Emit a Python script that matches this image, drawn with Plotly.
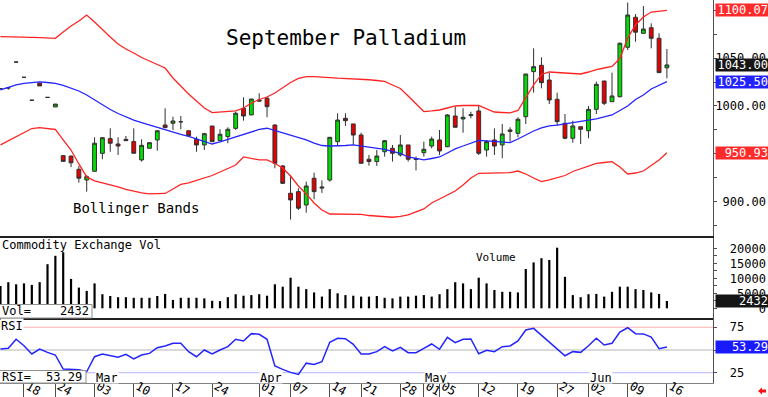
import plotly.graph_objects as go

# ---------------- data ----------------
dates = [
    "2003-02-12", "2003-02-13", "2003-02-14", "2003-02-18", "2003-02-19", "2003-02-20", "2003-02-21",
    "2003-02-24", "2003-02-25", "2003-02-26", "2003-02-27", "2003-02-28",
    "2003-03-03", "2003-03-04", "2003-03-05", "2003-03-06", "2003-03-07", "2003-03-10", "2003-03-11",
    "2003-03-12", "2003-03-13", "2003-03-14", "2003-03-17", "2003-03-18", "2003-03-19", "2003-03-20",
    "2003-03-21", "2003-03-24", "2003-03-25", "2003-03-26", "2003-03-27", "2003-03-28", "2003-03-31",
    "2003-04-01", "2003-04-02", "2003-04-03", "2003-04-04", "2003-04-07", "2003-04-08", "2003-04-09",
    "2003-04-10", "2003-04-11", "2003-04-14", "2003-04-15", "2003-04-16", "2003-04-17", "2003-04-21",
    "2003-04-22", "2003-04-23", "2003-04-24", "2003-04-25", "2003-04-28", "2003-04-29", "2003-04-30",
    "2003-05-01", "2003-05-02", "2003-05-05", "2003-05-06", "2003-05-07", "2003-05-08", "2003-05-09",
    "2003-05-12", "2003-05-13", "2003-05-14", "2003-05-15", "2003-05-16", "2003-05-19", "2003-05-20",
    "2003-05-21", "2003-05-22", "2003-05-23", "2003-05-27", "2003-05-28", "2003-05-29", "2003-05-30",
    "2003-06-02", "2003-06-03", "2003-06-04", "2003-06-05", "2003-06-06", "2003-06-09", "2003-06-10",
    "2003-06-11", "2003-06-12", "2003-06-13", "2003-06-16",
]

opens = [
    1018, 1019, 1046, 1030, 1006, 1024, 1009, 999, 948, 947.5,
    933.7, 922.5, 931.6, 950.4, 965.8, 960.2, 965.1, 962.7, 943.5, 955.7,
    964.4, 980.1, 981.9, 983.5, 974.1, 965.1, 959.2, 979, 963.7, 967.9,
    976.6, 997.6, 990.6, 1006.3, 1008.1, 980.1, 937.2, 908.6, 910.3, 896.3,
    924.3, 914, 922.5, 962.7, 987.1, 981.2, 969.6, 944.2, 941.8, 952.1,
    955.7, 948.7, 959.2, 944, 951.1, 958.1, 964.4, 957.4, 989.5, 986.4,
    991, 994.8, 953.9, 964.4, 959.2, 974.9, 971.4, 988.8, 1036, 1042.6,
    1027.2, 1007, 981.9, 966.2, 978.3, 974.1, 996.5, 1026.2, 1004.5, 1009.7,
    1061.5, 1092.9, 1076.1, 1082, 1070.9, 1040,
]
highs = [
    1018, 1019.5, 1046, 1030, 1006, 1024, 1009, 1002, 948, 948,
    937.2, 927.7, 967.2, 967.2, 976.6, 967.2, 968.6, 976.6, 965.1, 961.6,
    974.1, 997.5, 988.8, 989.5, 974.1, 967.9, 972, 979, 975.6, 977.7,
    994, 1009.1, 1007.3, 1013.3, 1009.8, 980.8, 938.2, 927.7, 913.8, 920.7,
    930.2, 922, 967.2, 992.4, 992.4, 981.2, 972, 948.7, 954, 964.4,
    959.2, 969.6, 959.2, 947, 962.7, 967.9, 974.9, 991.6, 999.3, 997.6,
    994, 1001, 964.4, 976.6, 981.2, 977.7, 988.2, 1033.5, 1060.4, 1051,
    1034.9, 1013.9, 991.6, 984.6, 978.3, 1000, 1025.5, 1026.2, 1034.9, 1066.4,
    1108.3, 1096.3, 1104.7, 1086.6, 1076.1, 1059.7,
]
lows = [
    1018, 1017, 1046, 1030, 1006, 1021, 1009, 999, 942, 936,
    919.7, 910.3, 931, 944.2, 952.1, 948.7, 963.7, 950.5, 941.8, 955.7,
    953.2, 977.3, 974.9, 975.6, 967.9, 952.1, 953.9, 962.6, 963.7, 961,
    974.9, 984.6, 990.6, 1004.5, 988.2, 934.8, 918.3, 881, 891.1, 888.3,
    902.3, 909, 920.7, 958, 979.1, 959.2, 940, 937.5, 937.2, 947,
    941.8, 947, 941.8, 932.5, 947, 955.7, 948.7, 956.8, 977.7, 972,
    987.1, 948.7, 947, 948.7, 945.3, 962.7, 967.2, 981.2, 1013.9, 1018.5,
    1002.1, 979.1, 965.1, 961.6, 960.2, 966.2, 991.6, 1001, 1004.5, 1009.1,
    1058.6, 1067.3, 1076.1, 1060.4, 1034.9, 1029,
]
closes = [
    1018, 1019, 1046, 1030, 1006, 1021, 1009, 1002, 942, 940.5,
    924.4, 926, 961, 966.8, 961, 958.1, 963.7, 950.5, 958.8, 961.6,
    974.1, 977.3, 984.3, 983.5, 968.9, 959.2, 971, 962.6, 970.4, 975.6,
    992.4, 989.5, 1007.3, 1005.2, 999.3, 940, 919, 901.6, 893, 916.2,
    910.3, 915, 967.2, 985.3, 984.6, 969.6, 940, 941.8, 947.6, 963.7,
    950.5, 959.2, 944.2, 945, 954.7, 965.4, 952.9, 990.6, 977.7, 988.2,
    990, 950.5, 962.7, 958.1, 970.7, 973.5, 986.1, 1033.5, 1041.2, 1024.4,
    1006.3, 983.6, 966.2, 979.1, 975.6, 996.5, 1022.7, 1002.8, 1010.5, 1065.7,
    1095.3, 1077.3, 1080.6, 1070.9, 1034.9, 1043,
]

bb_upper = [
    1072.6, 1072.6, 1072.5, 1072.2, 1071.9, 1071.6, 1071.2, 1070.9, 1077.5, 1083.8,
    1089, 1095.3, 1088, 1079.6, 1072.2, 1064.9, 1059.7, 1055.5, 1050.8, 1047.1,
    1043.5, 1039.8, 1029.3, 1020.4, 1012.6, 1005.2, 997.9, 993, 993.4, 994,
    994.8, 997.9, 1003.1, 1006.8, 1009.4, 1013.6, 1018.8, 1024.6, 1028.8, 1030.7,
    1030.7, 1030.6, 1029.8, 1029.1, 1028.8, 1028.8, 1028.3, 1027.5, 1026.7, 1025.7,
    1022, 1018.3, 1010.5, 1002.1, 994.2, 994.8, 995.8, 997.9, 1000, 1000.5,
    1000.8, 1000.5, 996.9, 993.7, 993.2, 992.7, 995.3, 1008.4, 1022, 1033,
    1035.6, 1035.1, 1034.8, 1034, 1033.5, 1035.6, 1038.2, 1039.8, 1041.4, 1049.7,
    1071.2, 1084.8, 1093.2, 1098.4, 1099.3, 1100.07,
]
bb_mid = [
    1016.8, 1019.4, 1022, 1023.6, 1024.6, 1025.3, 1024.6, 1023.6, 1021.5, 1018.8,
    1015.7, 1011.5, 1006.3, 1001, 996.3, 992.1, 988.5, 985.3, 982.7, 980.1,
    977.5, 974.9, 972.3, 970.2, 968.1, 965.4, 962.8, 960.2, 962.3, 964.9,
    967, 969.6, 972.8, 975.4, 976.7, 974.3, 971.7, 969.1, 967, 964.4,
    961.2, 958.6, 958.1, 958.1, 958.6, 959.2, 958.1, 957.1, 956, 954.5,
    952.4, 950.3, 946.6, 945, 943.5, 945, 946.6, 950.8, 955, 958.1,
    961.3, 963.9, 963.4, 962.8, 962.3, 961.6, 965.4, 969.6, 973.8, 977,
    979.1, 979.9, 981.2, 982.2, 983.2, 984.8, 986.4, 988.5, 990.6, 995.3,
    1000, 1006.8, 1011.5, 1017.8, 1022, 1025.5,
]
bb_lower = [
    959.2, 963.4, 967.5, 971.7, 976.4, 977.3, 976.7, 975.4, 964.4, 953.9,
    939.3, 925.7, 921.5, 919.4, 917.8, 915.2, 912.6, 910.5, 908.9, 907.9,
    907.9, 908.4, 913.1, 917.8, 919.4, 922, 924.6, 927.2, 930.9, 934.6,
    938.2, 946.6, 945, 943.5, 943.5, 939.8, 935.1, 926.7, 916.2, 907.9,
    898.4, 891.1, 886.9, 886.9, 886.9, 886.9, 886.4, 885.3, 884.8, 883.8,
    883.5, 884.3, 885.9, 889, 892.2, 898.4, 902.6, 906.3, 911, 917.3,
    924.6, 929.5, 929.8, 929.8, 930.2, 930.2, 931.9, 928.8, 924.6, 920.9,
    922.5, 924.6, 927.2, 931.4, 934, 936.7, 939.8, 940.8, 941.7, 936.1,
    928.8, 929.8, 931.9, 937.7, 943.5, 950.93,
]

volume = [
    7400, 8700, 8000, 8300, 7800, 8700, 14700, 17500, 18700, 9800,
    6900, 5800, 8300, 4700, 4100, 3700, 3700, 3500, 3500, 3500,
    4100, 4800, 2800, 3500, 3500, 3500, 3300, 2500, 2400, 3700,
    4700, 4200, 4400, 4700, 4200, 8000, 7200, 10200, 7200, 6400,
    5300, 3900, 6400, 5000, 4400, 4200, 3900, 3900, 4100, 3500,
    3300, 3900, 3900, 4200, 4400, 3900, 4700, 6400, 8700, 8300,
    6400, 10200, 8300, 6100, 5500, 5500, 5300, 13100, 15300, 16700,
    16100, 20200, 10500, 4400, 3700, 4700, 4800, 3900, 5500, 7200,
    7200, 6400, 6100, 5300, 4800, 2432,
]

rsi = [
    51.1, 51.8, 61.8, 54.7, 45.6, 51.1, 47.4, 44.5, 29.1, 29.1,
    28.3, 26.1, 42.6, 45.6, 43.7, 42, 45.2, 40.1, 44.5, 46.3,
    52.5, 54.4, 57.4, 57.4, 48.2, 42.6, 50, 45.6, 50, 53.7,
    61.8, 59.9, 68, 67.3, 61.8, 32.4, 28.7, 25.4, 23.2, 35.5,
    34.1, 37.1, 58.5, 62.9, 62.5, 56.3, 45.6, 45.6, 48.2, 53.7,
    48.9, 53, 47.1, 47.1, 51.8, 56.6, 50.8, 64, 58.1, 61.8,
    62.1, 45.9, 49.6, 48.2, 53.7, 54.4, 59.9, 72, 73.8, 66.5,
    59.2, 51.8, 43.7, 48.2, 47.4, 54.7, 62.9, 55.5, 57.4, 69.6,
    74.5, 68, 67.7, 64.2, 51.4, 53.29,
]

tick_dates = ["2003-02-18", "2003-02-24", "2003-03-03", "2003-03-10", "2003-03-17", "2003-03-24",
              "2003-04-01", "2003-04-07", "2003-04-14", "2003-04-21", "2003-04-28", "2003-05-01",
              "2003-05-05", "2003-05-12", "2003-05-19", "2003-05-27", "2003-06-02", "2003-06-09",
              "2003-06-16"]
tick_text = ["18", "24", "03", "10", "17", "24", "01", "07", "14", "21", "28", "01",
             "05", "12", "19", "27", "02", "09", "16"]
month_dates = ["2003-03-03", "2003-04-01", "2003-05-01", "2003-06-02"]
month_text = ["Mar", "Apr", "May", "Jun"]

price_ticks = [875, 900, 925, 950, 975, 1000, 1025, 1050, 1075, 1100]
vol_ticks = [0, 2500, 5000, 7500, 10000, 12500, 15000, 17500, 20000]
rsi_ticks = [25, 50, 75]

# ---------------- figure ----------------
W, H = 768, 397
PLOT_W = 713
FONT = "DejaVu Sans Mono"
NB = "\u00a0"


def px(xp):
    return xp / PLOT_W


def py(yp):
    return (H - yp) / H


n = len(dates)
xs = list(range(n))
pos = {d: i for i, d in enumerate(dates)}
xrange_ = [-0.06, 90.88]

fig = go.Figure()

fig.add_trace(go.Candlestick(
    x=xs, open=opens, high=highs, low=lows, close=closes,
    xaxis="x", yaxis="y", whiskerwidth=0,
    increasing=dict(fillcolor="#00dd00", line=dict(color="#303030", width=1)),
    decreasing=dict(fillcolor="#e80000", line=dict(color="#303030", width=1)),
    hoverinfo="skip",
))
for vals, col in ((bb_upper, "#ff2424"), (bb_mid, "#2424ff"), (bb_lower, "#ff2424")):
    fig.add_trace(go.Scatter(x=xs, y=vals, mode="lines", xaxis="x", yaxis="y",
                             line=dict(color=col, width=1.3), hoverinfo="skip"))

fig.add_trace(go.Bar(x=xs, y=volume, xaxis="x2", yaxis="y2", width=0.28,
                     marker=dict(color="black", line=dict(width=0)), hoverinfo="skip"))

fig.add_trace(go.Scatter(x=xs, y=rsi, mode="lines", xaxis="x3", yaxis="y3",
                         line=dict(color="#2424ff", width=1.5), hoverinfo="skip"))


def pad(s, w=7):
    return NB * (w - len(s)) + s


tickfont = dict(family=FONT, size=12, color="black")
YSTAND = -4

fig.update_layout(
    width=W, height=H,
    margin=dict(l=0, r=W - PLOT_W, t=0, b=0, autoexpand=False),
    paper_bgcolor="white", plot_bgcolor="white",
    showlegend=False, hovermode=False,
    xaxis=dict(domain=[0, 1], anchor="y", range=xrange_, showticklabels=False, showgrid=False,
               zeroline=False, rangeslider=dict(visible=False), ticks="", automargin=False),
    yaxis=dict(domain=[py(237), 1], anchor="x", side="right", range=[862.8, 1111],
               showgrid=False, zeroline=False, showline=True, linecolor="#505050", linewidth=1,
               tickvals=price_ticks, automargin=False, ticklabelstandoff=YSTAND,
               ticktext=[pad(f"{v:.2f}") if v % 50 == 0 else "" for v in price_ticks],
               ticks="outside", ticklen=3, tickcolor="#505050", tickfont=tickfont),
    xaxis2=dict(domain=[0, 1], anchor="y2", matches="x", range=xrange_, showticklabels=False,
                showgrid=False, zeroline=False, showline=True, mirror=True, automargin=False,
                linecolor="#202020", linewidth=2, ticks=""),
    yaxis2=dict(domain=[py(318), py(238)], anchor="x2", side="right", range=[-3233, 23433],
                showgrid=False, zeroline=False, showline=True, linecolor="#505050", linewidth=1,
                tickvals=vol_ticks, automargin=False, ticklabelstandoff=YSTAND,
                ticktext=[pad(pad(str(v), 5)) if v % 5000 == 0 else "" for v in vol_ticks],
                ticks="outside", ticklen=3, tickcolor="#505050", tickfont=tickfont),
    xaxis3=dict(domain=[0, 1], anchor="y3", matches="x", range=xrange_, showgrid=False,
                zeroline=False, showline=True, linecolor="#808080", linewidth=1, automargin=False,
                tickvals=[pos[d] for d in tick_dates], ticktext=tick_text,
                ticks="outside", ticklen=14, tickcolor="#505050", tickwidth=1,
                ticklabelposition="outside right", ticklabelstandoff=-9, ticklabelshift=3,
                tickfont=tickfont),
    yaxis3=dict(domain=[py(383), py(318)], anchor="x3", side="right", range=[13.7, 85.2],
                showgrid=False, zeroline=False, showline=True, linecolor="#505050", linewidth=1,
                tickvals=rsi_ticks, automargin=False, ticklabelstandoff=YSTAND,
                ticktext=[NB * 2 + str(v) if v != 50 else "" for v in rsi_ticks],
                ticks="outside", ticklen=3, tickcolor="#505050", tickfont=tickfont),
)

shapes = []
for lvl, col in ((75, "#ffb0b0"), (50, "#b4b4b4"), (25, "#b4b4ff")):
    shapes.append(dict(type="line", xref="x3 domain", yref="y3", x0=0, x1=1, y0=lvl, y1=lvl,
                       line=dict(color=col, width=1), layer="below"))
# value boxes at lower left of volume and RSI panels
shapes.append(dict(type="rect", xref="paper", yref="paper", x0=px(-1), x1=px(92), y0=py(318),
                   y1=py(304.5), fillcolor="white", line=dict(color="#909090", width=1), layer="above"))
shapes.append(dict(type="rect", xref="paper", yref="paper", x0=px(-1), x1=px(86), y0=py(383),
                   y1=py(370.5), fillcolor="white", line=dict(color="#909090", width=1), layer="above"))
# red arrow bottom right
arrow = [(758, 391), (762, 387.5), (762, 389.5), (766, 389.5), (766, 392.5), (762, 392.5), (762, 394.5)]
path = "M " + " L ".join(f"{px(a):.5f},{py(b):.5f}" for a, b in arrow) + " Z"
shapes.append(dict(type="path", xref="paper", yref="paper", path=path, fillcolor="#ff1010",
                   line=dict(width=0), layer="above"))
fig.update_layout(shapes=shapes)

ann = []


def text(t, x, y, size=12, xanchor="left", **kw):
    ann.append(dict(text=t, xref="paper", yref="paper", x=x, y=y, xanchor=xanchor, yanchor="middle",
                    showarrow=False, font=dict(family=FONT, size=size, color=kw.pop("color", "black")),
                    **kw))


text("September Palladium", px(345.5), py(38), size=21, xanchor="center")
text("Bollinger Bands", px(71), py(208), size=14)
text("Commodity Exchange Vol", px(0), py(245), size=12)
text("Volume", px(474), py(258), size=11)
text("Vol=", px(0), py(311), size=12)
text(f"{volume[-1]}", px(91), py(311), size=12, xanchor="right")
text("RSI", px(0), py(326), size=12, bgcolor="white", borderpad=0)
text("RSI=", px(0), py(377), size=12)
text(f"{rsi[-1]:.2f}", px(84), py(377), size=12, xanchor="right")

for d, m in zip(month_dates, month_text):
    ann.append(dict(text=m, xref="x3", yref="paper", x=pos[d], y=py(377), xanchor="left",
                    yanchor="middle", showarrow=False, bgcolor="white", borderpad=0, height=11,
                    font=dict(family=FONT, size=12, color="black")))


def value_box(val, yref, bg, fmt="{:.2f}"):
    ann.append(dict(text=fmt.format(val), xref="paper", yref=yref, x=px(714.5), y=val,
                    xanchor="left", yanchor="middle", showarrow=False, width=52, height=12,
                    align="right", bgcolor=bg, borderpad=0,
                    font=dict(family=FONT, size=12, color="white")))


value_box(bb_upper[-1], "y", "#ff2a2a")
value_box(closes[-1], "y", "#151515")
value_box(bb_mid[-1], "y", "#2222ff")
value_box(bb_lower[-1], "y", "#ff2a2a")
value_box(volume[-1], "y2", "#151515", fmt="{:d}")
value_box(rsi[-1], "y3", "#1a1aff")

fig.update_layout(annotations=ann)

fig.write_html(
    "out.html",
    config={"displayModeBar": False, "staticPlot": True},
    post_script="document.body.style.margin='0';document.body.style.overflow='hidden';",
)
